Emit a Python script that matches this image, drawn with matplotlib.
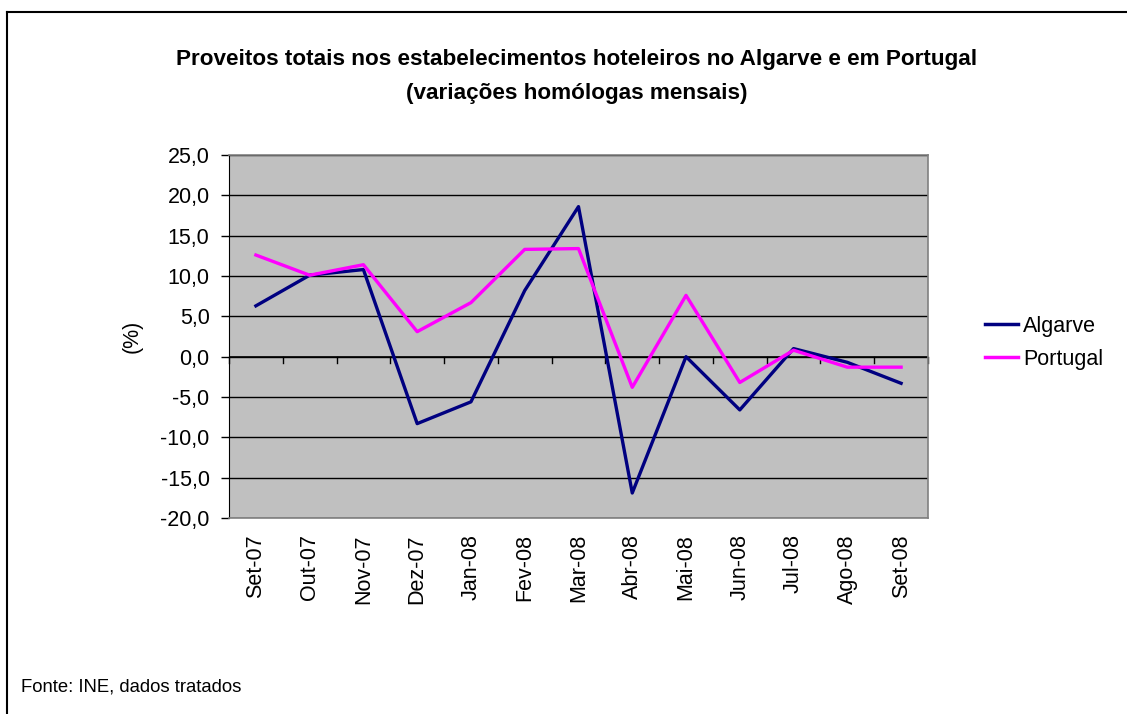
import matplotlib.pyplot as plt
from matplotlib.lines import Line2D
import numpy as np

plt.rcParams["font.family"] = ["Liberation Sans", "DejaVu Sans"]

meses = ["Set-07", "Out-07", "Nov-07", "Dez-07", "Jan-08", "Fev-08", "Mar-08",
         "Abr-08", "Mai-08", "Jun-08", "Jul-08", "Ago-08", "Set-08"]
algarve = [6.3, 10.1, 10.8, -8.3, -5.6, 8.2, 18.6, -16.9, 0.0, -6.6, 1.0, -0.7, -3.3]
portugal = [12.6, 10.1, 11.4, 3.1, 6.7, 13.3, 13.4, -3.8, 7.6, -3.2, 0.8, -1.3, -1.3]

fig = plt.figure(figsize=(11.27, 7.14), dpi=100)
ax = fig.add_axes([0.2032, 0.2745, 0.6202, 0.5084])

x = np.arange(len(meses))
ax.set_facecolor("#c0c0c0")
ax.plot(x, algarve, color="#000080", lw=2.4, label="Algarve", zorder=3)
ax.plot(x, portugal, color="#ff00ff", lw=2.4, label="Portugal", zorder=3)

ax.set_xlim(-0.5, len(meses) - 0.5)
ax.set_ylim(-20, 25)
ax.set_yticks(np.arange(-20, 26, 5))
ax.set_yticklabels([f"{v:.1f}".replace(".", ",") for v in np.arange(-20, 26, 5)], fontsize=15.5)
ax.yaxis.grid(True, color="black", lw=1)
ax.set_axisbelow(True)
ax.tick_params(axis="y", direction="out", length=6, width=1, pad=8)

# x axis crosses at zero, ticks between categories
ax.set_xticks(x)
ax.set_xticklabels([])
ax.tick_params(axis="x", length=0)
ax.axhline(0, color="black", lw=1.2, zorder=2)
for b in np.arange(-0.5, len(meses), 1.0):
    ax.plot([b, b], [0, -0.8], color="black", lw=1, zorder=2, clip_on=False)
for i, m in enumerate(meses):
    ax.text(i, -22, m, rotation=90, ha="center", va="top", fontsize=15.5)

for s in ["top", "right", "bottom"]:
    ax.spines[s].set_color("#808080")
    ax.spines[s].set_linewidth(1.2)
ax.spines["left"].set_color("black")

ax.set_ylabel("(%)", fontsize=15.5, labelpad=13)

fig.text(0.512, 0.893, "Proveitos totais nos estabelecimentos hoteleiros no Algarve e em Portugal\n(variações homólogas mensais)",
         ha="center", va="center", fontsize=16.2, fontweight="bold", linespacing=1.85)

handles = [Line2D([], [], color="#000080", lw=2.5), Line2D([], [], color="#ff00ff", lw=2.5)]
fig.legend(handles, ["Algarve", "Portugal"], loc="center left", bbox_to_anchor=(0.857, 0.52),
           frameon=False, fontsize=15.5, handlelength=1.5, handletextpad=0.25, labelspacing=0.55)

fig.text(0.019, 0.038, "Fonte: INE, dados tratados", fontsize=13.3, ha="left", va="center")

# chart border (top and left visible)
fig.add_artist(Line2D([7 / 1127, 1.0], [1 - 12 / 714, 1 - 12 / 714], color="black", lw=1.5))
fig.add_artist(Line2D([7 / 1127, 7 / 1127], [0.0, 1 - 12 / 714], color="black", lw=1.5))

fig.savefig("out.png", dpi=100)
